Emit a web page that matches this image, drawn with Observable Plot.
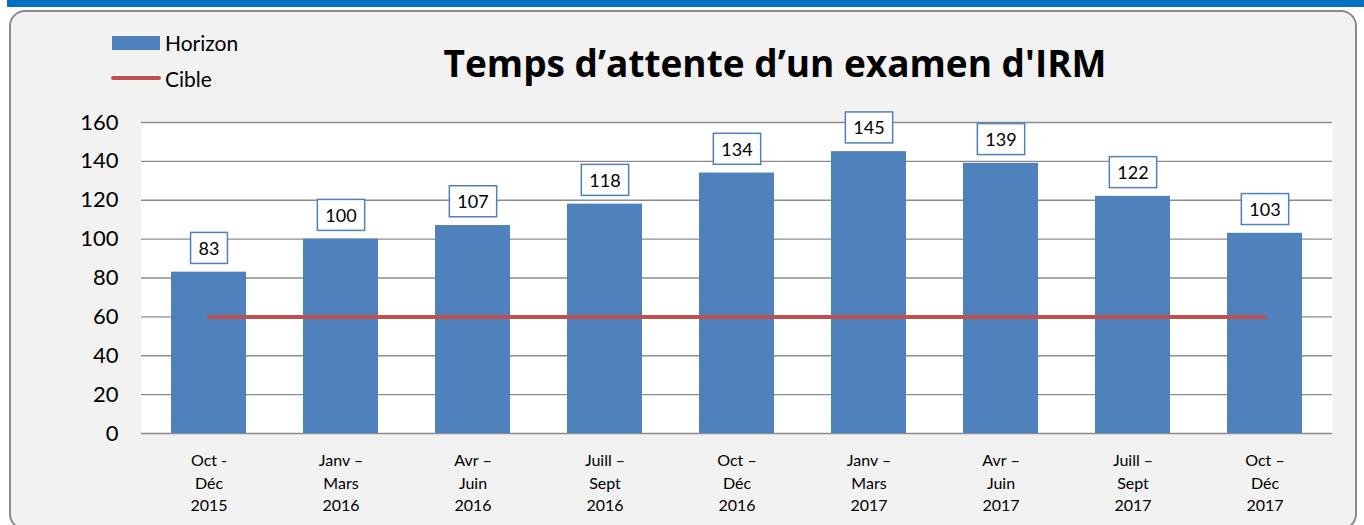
<!DOCTYPE html>
<html><head><meta charset="utf-8">
<script src="https://cdn.jsdelivr.net/npm/d3@7"></script>
<script src="https://cdn.jsdelivr.net/npm/@observablehq/plot@0.6"></script>
<style>
body{margin:0;background:#fff;font-family:Lato,"Open Sans",sans-serif;}
#wrap{position:relative;width:1364px;height:525px;overflow:hidden;}
#topbar{position:absolute;left:7px;top:0;width:1357px;height:7px;background:#0070C0;}
#panel{position:absolute;left:9px;top:10px;width:1348px;height:520px;background:#f2f2f2;border:2px solid #8a8a8a;border-radius:16px;box-sizing:border-box;}
#title{position:absolute;left:0;width:1550px;text-align:center;top:40px;line-height:46px;font-family:"Open Sans",Lato,sans-serif;font-weight:bold;font-size:37px;color:#000;}
.lg{position:absolute;}
.lgt{position:absolute;left:165px;font-size:21px;line-height:24px;color:#000;}
#chart{position:absolute;left:0;top:0;}
</style></head>
<body>
<div id="wrap">
  <div id="topbar"></div>
  <div id="panel"></div>
  <div id="title"></div>
  <div class="lg" style="left:112px;top:36px;width:48px;height:14px;background:#4F81BD"></div>
  <div class="lgt" id="lg1" style="top:31px"></div>
  <div class="lg" style="left:111px;top:76px;width:50px;height:4px;border-radius:2px;background:#C0504D"></div>
  <div class="lgt" id="lg2" style="top:67px"></div>
  <div id="chart"></div>
</div>
<script>
const titleText = "Temps d’attente d’un examen d'IRM";
const seriesNames = ["Horizon", "Cible"];
const periods = ["Oct -\nDéc\n2015","Janv –\nMars\n2016","Avr –\nJuin\n2016","Juill –\nSept\n2016","Oct –\nDéc\n2016","Janv –\nMars\n2017","Avr –\nJuin\n2017","Juill –\nSept\n2017","Oct –\nDéc\n2017"];
const horizon = [83,100,107,118,134,145,139,122,103];
const cible = [60,60,60,60,60,60,60,60,60];
const yTicks = [0,20,40,60,80,100,120,140,160];

document.getElementById("title").textContent = titleText;
document.getElementById("lg1").textContent = seriesNames[0];
document.getElementById("lg2").textContent = seriesNames[1];

const data = periods.map((p,i)=>({period:p, horizon:horizon[i], cible:cible[i]}));

const chart = Plot.plot({
  width:1364, height:525,
  marginLeft:141, marginRight:32, marginTop:122, marginBottom:92,
  style:{background:"transparent", fontFamily:"Lato, 'Open Sans', sans-serif", color:"#000", overflow:"visible"},
  x:{domain:periods, paddingInner:0.433, paddingOuter:0.2165, label:null},
  y:{domain:[0,160], label:null},
  marks:[
    Plot.frame({fill:"white", stroke:null}),
    Plot.ruleY(yTicks,{stroke:"#8c8c8c", strokeWidth:1.4}),
    Plot.barY(data,{x:"period", y:"horizon", fill:"#4F81BD"}),
    Plot.line(data,{x:"period", y:"cible", stroke:"#C0504D", strokeWidth:4, strokeLinecap:"round"}),
    Plot.text(data,{x:"period", y:"horizon", text:d=>String(d.horizon), dy:-23, fontSize:18, lineAnchor:"middle", fill:"#000", className:"vlabel"}),
    Plot.axisY({ticks:yTicks, tickSize:0, tickPadding:23, fontSize:22, label:null}),
    Plot.axisX({tickSize:0, tickPadding:17, fontSize:16, lineHeight:1.4, label:null})
  ]
});
document.getElementById("chart").appendChild(chart);

// draw boxes behind value labels
const ns = "http://www.w3.org/2000/svg";
chart.querySelectorAll("g.vlabel text").forEach(t=>{
  const b = t.getBBox();
  const r = document.createElementNS(ns,"rect");
  const padX = 8, h = 31;
  const cy = b.y + b.height/2;
  r.setAttribute("x", b.x - padX);
  r.setAttribute("y", cy - h/2);
  r.setAttribute("width", b.width + 2*padX);
  r.setAttribute("height", h);
  r.setAttribute("fill", "white");
  r.setAttribute("stroke", "#4F81BD");
  r.setAttribute("stroke-width", "1.5");
  const tr = t.getAttribute("transform");
  if (tr) r.setAttribute("transform", tr);
  t.parentNode.insertBefore(r, t);
});
</script>
</body></html>
